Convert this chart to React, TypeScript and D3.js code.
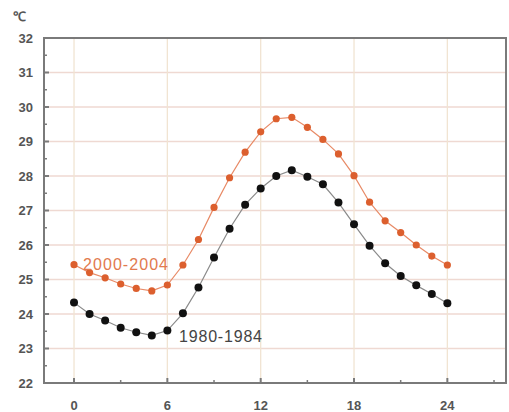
import React from "react";
import * as d3 from "d3";

const hours = [0,1,2,3,4,5,6,7,8,9,10,11,12,13,14,15,16,17,18,19,20,21,22,23,24];
const series2000 = [25.43,25.2,25.05,24.87,24.74,24.67,24.84,25.42,26.16,27.09,27.95,28.69,29.28,29.66,29.7,29.41,29.06,28.64,28.01,27.24,26.7,26.36,26.0,25.68,25.42];
const series1980 = [24.33,24.0,23.81,23.6,23.47,23.38,23.52,24.02,24.77,25.64,26.47,27.17,27.64,28.0,28.17,27.98,27.76,27.23,26.6,25.98,25.47,25.1,24.83,24.58,24.31];
const xTicks = [0,6,12,18,24];
const xMinor = [3,9,15,21,27];
const yTicks = [22,23,24,25,26,27,28,29,30,31,32];
const yMinor = [22.5,23.5,24.5,25.5,26.5,27.5,28.5,29.5,30.5,31.5];
const unitLabel = "℃";
const label2000 = "2000-2004";
const label1980 = "1980-1984";

export default function App() {
  const W = 509, H = 412;
  const left = 44, right = 506, top = 38, bottom = 383;
  const x = d3.scaleLinear().domain([-1.93, 27.77]).range([left, right]);
  const y = d3.scaleLinear().domain([22, 32]).range([bottom, top]);
  const line = d3.line<number>().x((_, i) => x(hours[i])).y(d => y(d));
  const orange = "#dc5f2e";
  const axisCol = "#7a7a7a";
  const font = "Liberation Sans, Arial, sans-serif";
  return (
    <svg width={W} height={H} style={{ position: "absolute", left: 0, top: 0, background: "#fff" }}>
      {yTicks.map(v => (
        <line key={"gy" + v} x1={left} x2={right} y1={y(v)} y2={y(v)} stroke="#efd9d2" strokeWidth={1.3} />
      ))}
      {xTicks.map(v => (
        <line key={"gx" + v} x1={x(v)} x2={x(v)} y1={top} y2={bottom} stroke="#f1e4d2" strokeWidth={1.3} />
      ))}
      <path d={line(series2000) || ""} fill="none" stroke="#e88a66" strokeWidth={1.2} />
      <path d={line(series1980) || ""} fill="none" stroke="#8a8a8a" strokeWidth={1.2} />
      {series2000.map((v, i) => (
        <circle key={"o" + i} cx={x(hours[i])} cy={y(v)} r={3.6} fill={orange} />
      ))}
      {series1980.map((v, i) => (
        <circle key={"b" + i} cx={x(hours[i])} cy={y(v)} r={4} fill="#111" />
      ))}
      <rect x={left} y={top} width={right - left} height={bottom - top} fill="none" stroke={axisCol} strokeWidth={2} />
      {yTicks.map(v => (
        <line key={"ty" + v} x1={left} x2={left + 5} y1={y(v)} y2={y(v)} stroke={axisCol} strokeWidth={2} />
      ))}
      {yMinor.map(v => (
        <line key={"tym" + v} x1={left} x2={left + 3} y1={y(v)} y2={y(v)} stroke={axisCol} strokeWidth={1.5} />
      ))}
      {xTicks.map(v => (
        <line key={"tx" + v} x1={x(v)} x2={x(v)} y1={bottom} y2={bottom - 5} stroke={axisCol} strokeWidth={2} />
      ))}
      {xMinor.map(v => (
        <line key={"txm" + v} x1={x(v)} x2={x(v)} y1={bottom} y2={bottom - 3} stroke={axisCol} strokeWidth={1.5} />
      ))}
      {yTicks.map(v => (
        <text key={"ly" + v} x={33} y={y(v)} dy="0.36em" textAnchor="end" fontFamily={font} fontSize={13} fontWeight="bold" fill="#555">{v}</text>
      ))}
      {xTicks.map(v => (
        <text key={"lx" + v} x={x(v)} y={410} textAnchor="middle" fontFamily={font} fontSize={13} fontWeight="bold" fill="#555">{v}</text>
      ))}
      <text x={13} y={21} fontFamily={font} fontSize={13} fontWeight="bold" fill="#555">{unitLabel}</text>
      <text x={83} y={270} fontFamily={font} fontSize={16} fill="#e27a4e" textLength={85}>{label2000}</text>
      <text x={179} y={342} fontFamily={font} fontSize={16} fill="#444" textLength={83}>{label1980}</text>
    </svg>
  );
}
